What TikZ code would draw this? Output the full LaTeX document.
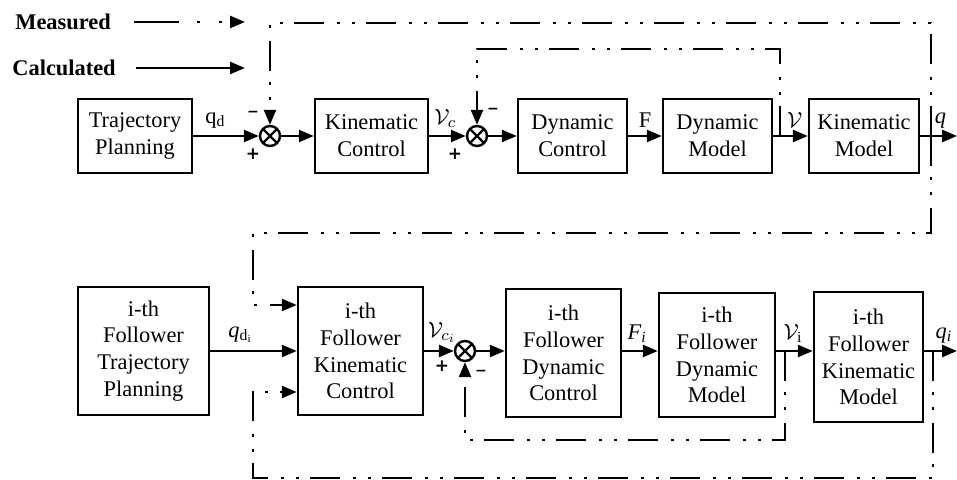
\documentclass[tikz,border=0pt]{standalone}
\usepackage{fontspec}
\setmainfont{Liberation Serif}
\newfontfamily\signfont{DejaVu Sans}
\usetikzlibrary{arrows.meta, positioning}

\begin{document}
\begin{tikzpicture}[
    x=0.5pt, y=-0.5pt,
    box/.style={draw, line width=1.2pt, align=center, inner sep=1pt, font=\fontsize{11.2pt}{13.4pt}\selectfont},
    topbox/.style={box, minimum height=37pt},
    lowbox/.style={box, minimum height=64pt},
    arr/.style={-{Triangle[length=7.5pt, width=6pt]}, line width=1.2pt},
    marr/.style={arr, dash pattern=on 15pt off 5.5pt on 1.5pt off 6pt on 1.5pt off 6.5pt},
    sumj/.style={draw, circle, line width=1.2pt, minimum size=10pt, inner sep=0pt,
        path picture={\draw[line width=1.2pt] (path picture bounding box.north west) -- (path picture bounding box.south east)
            (path picture bounding box.north east) -- (path picture bounding box.south west);}},
    lbl/.style={font=\fontsize{11.2pt}{13.4pt}\selectfont, inner sep=0pt, midway, above=3.5pt},
    sgn/.style={font=\signfont\bfseries\fontsize{8.5pt}{9pt}\selectfont, inner sep=0pt},
    neg/.style={font=\signfont\bfseries\fontsize{7pt}{8pt}\selectfont, inner sep=0pt},
    leg/.style={font=\bfseries\fontsize{11.2pt}{13.4pt}\selectfont, inner sep=0pt, anchor=west},
]
\useasboundingbox (0,0) rectangle (957,480);

% ---- Legenda ----
\node[leg] (meas) at (15,22) {Measured};
\node[leg] (calc) at (12,68) {Calculated};
\coordinate (legend) at (245,0);
\draw[arr, dash pattern=on 22.5pt off 9pt on 1.5pt off 9.5pt on 1.5pt off 20pt, shorten <=11.5pt]
    (meas.east) -- (legend |- meas.east);
\draw[arr, shorten <=10pt] (calc.east) -- (legend |- calc.east);

% ---- Gornji red ----
\node[topbox, minimum width=57pt] (tp) at (135,136) {Trajectory\\Planning};
\node[sumj] (s1) at (270,136) {};
\node[topbox, minimum width=56.5pt] (kc) at (371.5,136) {Kinematic\\Control};
\node[sumj] (s2) at (477,136) {};
\node[topbox, minimum width=54.5pt] (dc) at (572.5,136) {Dynamic\\Control};
\node[topbox, minimum width=54.5pt] (dm) at (717.5,136) {Dynamic\\Model};
\node[topbox, minimum width=55pt] (km) at (864,136) {Kinematic\\Model};
\coordinate (qout) at (957,136);

\node[neg] at ([shift={(-17,-22)}]s1) {−};
\node[sgn] at ([shift={(-17,18)}]s1) {+};
\node[neg] at ([shift={(16,-25)}]s2) {−};
\node[sgn] at ([shift={(-22,18)}]s2) {+};

\draw[arr] (tp.east) -- node[lbl, pos=0.34] {q\textsubscript{d}} (s1.west);
\draw[arr] (s1.east) -- (kc.west);
\draw[arr] (kc.east) -- node[lbl, pos=0.44] {$\mathcal{V}_c$} (s2.west);
\draw[arr] (s2.east) -- (dc.west);
\draw[arr] (dc.east) -- node[lbl] {F} (dm.west);
\draw[arr] (dm.east) -- node[lbl, pos=0.62] {$\mathcal{V}$} (km.west);
\draw[arr] (km.east) -- node[lbl, pos=0.55] {\textit{q}} (qout);

% ---- Povratne veze (gore) ----
\coordinate (qtap) at (931,136);
\coordinate (vtap) at (780,136);
\coordinate (topout) at (0,23);
\coordinate (topin) at (0,49);
\coordinate (midrow) at (253,233);
\draw[marr] (qtap) |- (s1.north |- topout) -- (s1.north);
\draw[marr] (vtap) |- (s2.north |- topin) -- (s2.north);

% ---- Donji red ----
\node[lowbox, minimum width=65.5pt] (btp) at (143.5,351) {i-th\\Follower\\Trajectory\\Planning};
\node[lowbox, minimum width=62.5pt] (bkc) at (360.5,351) {i-th\\Follower\\Kinematic\\Control};
\node[sumj] (s3) at (465,351) {};
\node[lowbox, minimum width=57.5pt] (bdc) at (563.5,353) {i-th\\Follower\\Dynamic\\Control};
\node[lowbox, minimum width=58pt, minimum height=62pt] (bdm) at (717,355) {i-th\\Follower\\Dynamic\\Model};
\node[lowbox, minimum width=54.5pt, minimum height=65pt] (bkm) at (868.5,357) {i-th\\Follower\\Kinematic\\Model};
\coordinate (qiout) at (957,351);

\node[sgn] at ([shift={(-23,15)}]s3) {+};
\node[neg] at ([shift={(16,22)}]s3) {−};

\draw[arr] (btp.east) -- node[lbl, pos=0.35] {\textit{q}\textsubscript{d\textsubscript{i}}} (bkc.west);
\draw[arr] (bkc.east) -- node[lbl, pos=0.6] {$\mathcal{V}_{c_i}$} (s3.west);
\draw[arr] (s3.east) -- (bdc.west |- s3.east);
\draw[arr] (bdc.east |- s3.east) -- node[lbl, pos=0.42] {\textit{F\textsubscript{i}}} (bdm.west |- s3.east);
\draw[arr] (bdm.east |- s3.east) -- node[lbl, pos=0.46] {$\mathcal{V}_{\mathrm{i}}$} (bkm.west |- s3.east);
\draw[arr] (bkm.east |- s3.east) -- node[lbl, pos=0.6] {\textit{q\textsubscript{i}}} (qiout);

% ---- Povratne veze (dole) ----
\coordinate (vitap) at (785,351);
\coordinate (qitap) at (933,351);
\coordinate (lowin) at (0,440);
\coordinate (lowout) at (253,478);
\draw[marr] (qtap) |- (midrow) |- ([yshift=23pt]bkc.west);
\draw[marr] (vitap) |- (s3.south |- lowin) -- (s3.south);
\draw[marr] (qitap) |- (lowout) |- ([yshift=-20.5pt]bkc.west);

\end{tikzpicture}
\end{document}
